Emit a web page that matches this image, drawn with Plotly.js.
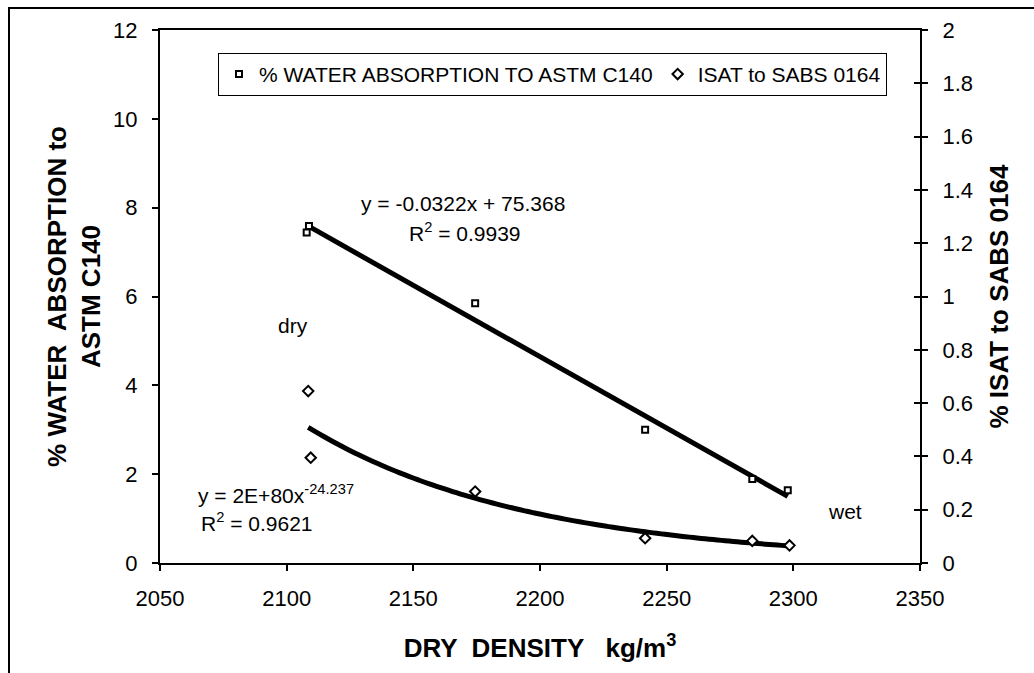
<!DOCTYPE html>
<html>
<head>
<meta charset="utf-8">
<script src="https://cdn.plot.ly/plotly-3.0.1.min.js"></script>
<style>
  html, body { margin: 0; padding: 0; background: #fff; }
  #chart { width: 1034px; height: 673px; }
</style>
</head>
<body>
<div id="chart"></div>
<script>
// Dry density (kg/m3) of each sample
const densityAbs = [2107.9, 2108.8, 2174.4, 2241.5, 2283.8, 2297.8];
// % water absorption to ASTM C140 (left axis)
const waterAbsorption = [7.44, 7.59, 5.85, 3.0, 1.89, 1.64];

const densityIsat = [2108.5, 2109.5, 2174.4, 2241.5, 2283.8, 2298.5];
// % ISAT to SABS 0164 (right axis)
const isat = [0.645, 0.395, 0.268, 0.093, 0.083, 0.066];

const xTicks = [2050, 2100, 2150, 2200, 2250, 2300, 2350];

const FONT = '"Liberation Sans", Arial, Helvetica, sans-serif';

// least-squares line y = a + b x
function linFit(xs, ys) {
  const n = xs.length;
  const mx = xs.reduce((s, v) => s + v, 0) / n;
  const my = ys.reduce((s, v) => s + v, 0) / n;
  let sxy = 0, sxx = 0;
  for (let i = 0; i < n; i++) {
    sxy += (xs[i] - mx) * (ys[i] - my);
    sxx += (xs[i] - mx) * (xs[i] - mx);
  }
  const b = sxy / sxx;
  return { a: my - b * mx, b: b };
}

// linear trendline for water absorption
const lf = linFit(densityAbs, waterAbsorption);
const linX = [Math.min(...densityAbs), Math.max(...densityAbs)];
const linY = linX.map(x => lf.a + lf.b * x);

// power trendline y = c x^k for ISAT (fit in log space)
const pf = linFit(densityIsat.map(Math.log), isat.map(Math.log));
const pMin = Math.min(...densityIsat), pMax = Math.max(...densityIsat);
const powX = [], powY = [];
for (let i = 0; i <= 60; i++) {
  const x = pMin + (pMax - pMin) * i / 60;
  powX.push(x);
  powY.push(Math.exp(pf.a) * Math.pow(x, pf.b));
}

const traces = [
  { x: linX, y: linY, type: 'scatter', mode: 'lines', showlegend: false,
    line: { color: '#000', width: 5 }, hoverinfo: 'skip' },
  { x: powX, y: powY, yaxis: 'y2', type: 'scatter', mode: 'lines', showlegend: false,
    line: { color: '#000', width: 5, shape: 'spline' }, hoverinfo: 'skip' },
  { x: densityAbs, y: waterAbsorption, type: 'scatter', mode: 'markers',
    name: '% WATER ABSORPTION TO ASTM C140',
    marker: { symbol: 'square', size: 6, color: '#fff', line: { color: '#000', width: 2 } } },
  { x: densityIsat, y: isat, yaxis: 'y2', type: 'scatter', mode: 'markers',
    name: 'ISAT to SABS 0164',
    marker: { symbol: 'diamond', size: 8, color: '#fff', line: { color: '#000', width: 2 } } },
  // carries the inner tick marks of the right-hand axis
  { x: [], y: [], yaxis: 'y3', type: 'scatter', mode: 'markers', showlegend: false, hoverinfo: 'skip' }
];

const axisCommon = {
  showline: true, linecolor: '#000', linewidth: 2,
  ticks: 'outside', ticklen: 6, tickwidth: 2, tickcolor: '#000',
  showgrid: false, zeroline: false,
  tickfont: { family: FONT, size: 22, color: '#000' }
};

const titleFont = { family: FONT, size: 26, color: '#000', weight: 'bold' };

const layout = {
  width: 1034, height: 673,
  margin: { l: 160, r: 114, t: 30, b: 110 },
  paper_bgcolor: '#fff', plot_bgcolor: '#fff',
  font: { family: FONT, color: '#000' },
  xaxis: Object.assign({}, axisCommon, {
    range: [2050, 2350], tickvals: xTicks, mirror: true,
    ticklabelstandoff: 9,
    title: { text: '<b>DRY  DENSITY   kg/m<sup>3</sup></b>', font: titleFont, standoff: 28 }
  }),
  yaxis: Object.assign({}, axisCommon, {
    range: [0, 12], dtick: 2, tick0: 0,
    ticklabelstandoff: 10,
    title: { text: '<b>% WATER  ABSORPTION to<br>ASTM C140</b>', font: titleFont, standoff: 5 }
  }),
  yaxis2: Object.assign({}, axisCommon, {
    overlaying: 'y', side: 'right', range: [0, 2], dtick: 0.2, tick0: 0,
    ticklabelstandoff: 10,
    title: { text: '<b>% ISAT to SABS 0164</b>', font: titleFont, standoff: 18 }
  }),
  yaxis3: {
    overlaying: 'y', side: 'right', range: [0, 2], dtick: 0.2, tick0: 0,
    ticks: 'inside', ticklen: 6, tickwidth: 2, tickcolor: '#000',
    showticklabels: false, showline: false, showgrid: false, zeroline: false
  },
  legend: {
    orientation: 'h', x: 0.0763, y: 0.957, xanchor: 'left', yanchor: 'top',
    bgcolor: '#fff', bordercolor: '#000', borderwidth: 1,
    font: { family: FONT, size: 21, color: '#000' },
    itemwidth: 30
  },
  annotations: [
    { text: 'y = -0.0322x + 75.368', x: 463, y: 203 },
    { text: 'R<sup>2</sup> = 0.9939', x: 465, y: 232 },
    { text: 'dry', x: 293, y: 325 },
    { text: 'wet', x: 845, y: 511 },
    { text: 'y = 2E+80x<sup>-24.237</sup>', x: 276, y: 494 },
    { text: 'R<sup>2</sup> = 0.9621', x: 257, y: 522 }
  ].map(a => ({
    text: a.text, showarrow: false,
    xref: 'paper', yref: 'paper',
    x: (a.x - 160) / 760, y: (563 - a.y) / 533,
    xanchor: 'center', yanchor: 'middle',
    font: { family: FONT, size: 21, color: '#000' }
  })),
  shapes: [
    // outer frame, left and top edges
    { type: 'path', xref: 'paper', yref: 'paper',
      path: 'M ' + ((9 - 160) / 760) + ' ' + ((563 - 680) / 533) +
            ' L ' + ((9 - 160) / 760) + ' ' + ((563 - 8) / 533) +
            ' L ' + ((1040 - 160) / 760) + ' ' + ((563 - 8) / 533),
      line: { color: '#000', width: 2 } }
  ]
};

Plotly.newPlot('chart', traces, layout, { staticPlot: true, displayModeBar: false });
</script>
</body>
</html>
